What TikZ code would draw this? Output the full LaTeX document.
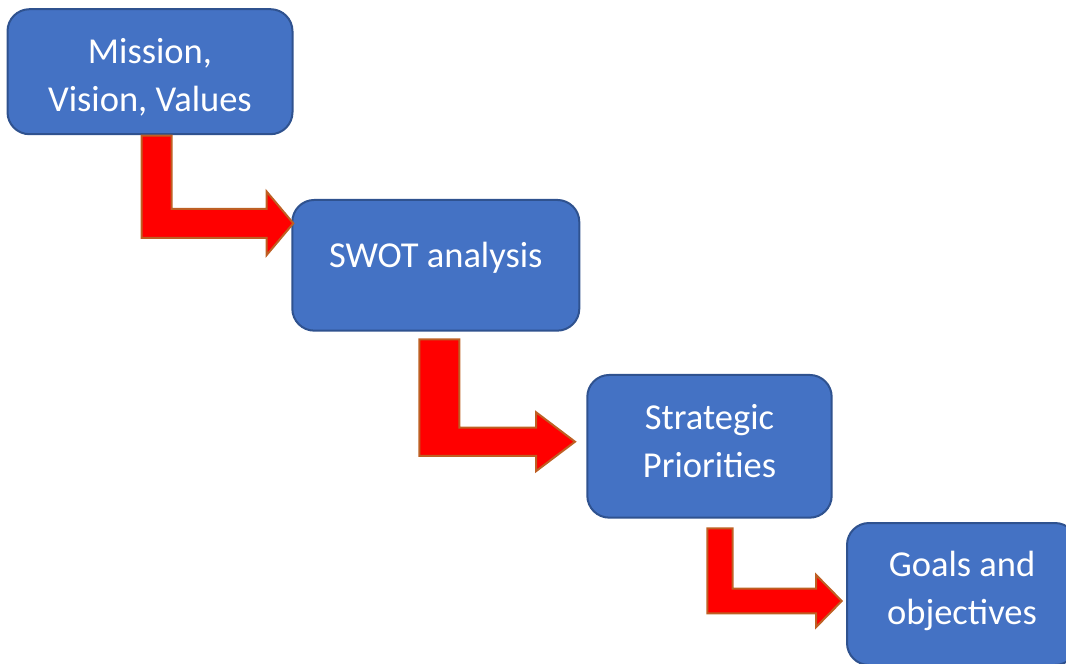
\documentclass[tikz,border=0pt]{standalone}
\usepackage{fontspec}
\setmainfont{Carlito}
\usetikzlibrary{calc}
\definecolor{boxblue}{HTML}{4472C4}
\definecolor{boxedge}{HTML}{2F528F}
\definecolor{arrowedge}{RGB}{190,95,35}
\tikzset{
    stagebox/.style={
            draw=boxedge, line width=2pt, fill=boxblue, rounded corners=22pt,
            text=white, align=center, outer sep=0pt, inner sep=0pt,
            font=\fontsize{36.5}{48}\selectfont, text depth=12pt
        },
    bentarrow/.style={
            draw=arrowedge, line width=2pt, fill=red, line join=miter
        },
}
% #1 top of shaft, #2 tip, #3 down width, #4 across width, #5 half head, #6 head length
\newcommand{\bendarrow}[6]{%
    \path[bentarrow] let \p1=#1, \p2=#2 in
        (\x1-#3pt/2,\y1) -- (\x1+#3pt/2,\y1) -- (\x1+#3pt/2,\y2+#4pt/2)
        -- (\x2-#6pt,\y2+#4pt/2) -- (\x2-#6pt,\y2+#5pt) -- (\x2,\y2)
        -- (\x2-#6pt,\y2-#5pt) -- (\x2-#6pt,\y2-#4pt/2)
        -- (\x1-#3pt/2,\y2-#4pt/2) -- cycle;
}

\begin{document}
\begin{tikzpicture}[x=1pt, y=-1pt]
        %fix the page size
        \useasboundingbox (0,0) rectangle (1066,664);
        %draw the boxes
        \node[stagebox, text height=90.6pt, minimum width=285pt, minimum height=125pt] (mission) at (150,71.7) {Mission,\\Vision, Values};
        \node[stagebox, text height=32pt, text depth=27.2pt, minimum width=287pt, minimum height=130.7pt] (swot) at (435.8,265.3) {SWOT analysis};
        \node[stagebox, text height=74.8pt, minimum width=244.4pt, minimum height=142.7pt] (strategic) at (709.5,446.3) {Strategic\\Priorities};
        \node[stagebox, text height=72pt, minimum width=230pt, minimum height=142pt] (goals) at (962,594) {Goals and\\objectives};
        %draw the arrows
        \bendarrow{($(mission.south)+(6.7,1.5)$)}{($(swot.west)+(1,-42)$)}{30}{29}{31.7}{26.6}
        \bendarrow{($(swot.south)+(3.5,8.6)$)}{($(strategic.west)+(-12.3,-4.6)$)}{40}{28.4}{29.5}{39}
        \bendarrow{($(strategic.south)+(10.5,10.6)$)}{($(goals.west)+(-5.3,7)$)}{25.4}{24.7}{26.2}{25.7}
    \end{tikzpicture}
\end{document}
